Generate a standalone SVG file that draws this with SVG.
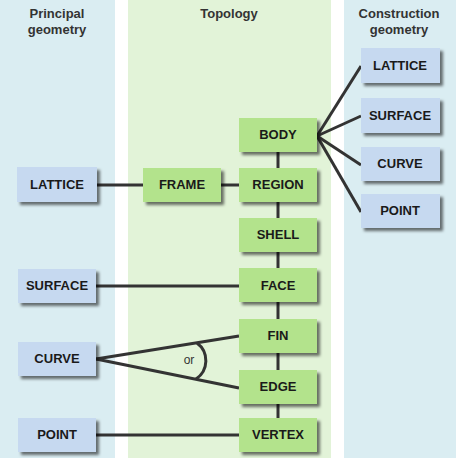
<svg xmlns="http://www.w3.org/2000/svg" width="456" height="463" viewBox="0 0 456 463">
<style>
.title{font-family:"Liberation Sans",Arial,sans-serif;font-weight:bold;font-size:13px;fill:#333;text-anchor:middle}
.lbl{font-family:"Liberation Sans",Arial,sans-serif;font-weight:bold;font-size:13px;fill:#1a1a1a;text-anchor:middle}
.geo{fill:#c6d9f0}
.top{fill:#b3e38c}
.con{stroke:#333;stroke-width:3;fill:none}
</style>
<defs>
<filter id="sh" x="-20%" y="-30%" width="150%" height="180%">
<feDropShadow dx="3" dy="3" stdDeviation="1.5" flood-color="#000" flood-opacity="0.55"/>
</filter>
</defs>
<rect x="0" y="0" width="115" height="458" fill="#daedf2"/>
<rect x="128" y="0" width="203" height="458" fill="#e2f3d8"/>
<rect x="344" y="0" width="112" height="458" fill="#daedf2"/>
<text class="title" x="57" y="18">Principal</text>
<text class="title" x="57" y="34">geometry</text>
<text class="title" x="229" y="18">Topology</text>
<text class="title" x="399" y="18">Construction</text>
<text class="title" x="399" y="34">geometry</text>
<g id="connectors">
<line class="con" x1="317" y1="136" x2="361" y2="66"/>
<line class="con" x1="317" y1="136" x2="361" y2="116"/>
<line class="con" x1="317" y1="136" x2="361" y2="165"/>
<line class="con" x1="317" y1="136" x2="361" y2="212"/>
<line class="con" x1="278" y1="152" x2="278" y2="168"/>
<line class="con" x1="278" y1="202" x2="278" y2="218"/>
<line class="con" x1="278" y1="252" x2="278" y2="268"/>
<line class="con" x1="278" y1="302" x2="278" y2="319"/>
<line class="con" x1="278" y1="353" x2="278" y2="370"/>
<line class="con" x1="278" y1="404" x2="278" y2="418"/>
<line class="con" x1="97" y1="185" x2="143" y2="185"/>
<line class="con" x1="221" y1="185" x2="239" y2="185"/>
<line class="con" x1="96" y1="286" x2="239" y2="286"/>
<line class="con" x1="96" y1="359" x2="239" y2="336"/>
<line class="con" x1="96" y1="359" x2="239" y2="388"/>
<line class="con" x1="96" y1="435" x2="239" y2="435"/>
<path class="con" d="M197,343 A22,22 0 0,1 196,379"/>
<text x="189" y="364" font-family="Liberation Sans,Arial,sans-serif" font-size="12" fill="#333" text-anchor="middle">or</text>
</g>
<g id="p-lattice"><rect class="geo" x="17" y="167" width="80" height="35" filter="url(#sh)"/><text class="lbl" x="57" y="189">LATTICE</text></g>
<g id="p-surface"><rect class="geo" x="18" y="269" width="78" height="34" filter="url(#sh)"/><text class="lbl" x="57" y="290">SURFACE</text></g>
<g id="p-curve"><rect class="geo" x="18" y="342" width="78" height="34" filter="url(#sh)"/><text class="lbl" x="57" y="363">CURVE</text></g>
<g id="p-point"><rect class="geo" x="18" y="418" width="78" height="34" filter="url(#sh)"/><text class="lbl" x="57" y="439">POINT</text></g>
<g id="frame"><rect class="top" x="143" y="168" width="78" height="34" filter="url(#sh)"/><text class="lbl" x="182" y="189">FRAME</text></g>
<g id="body"><rect class="top" x="239" y="118" width="78" height="34" filter="url(#sh)"/><text class="lbl" x="278" y="139">BODY</text></g>
<g id="region"><rect class="top" x="239" y="168" width="78" height="34" filter="url(#sh)"/><text class="lbl" x="278" y="189">REGION</text></g>
<g id="shell"><rect class="top" x="239" y="218" width="78" height="34" filter="url(#sh)"/><text class="lbl" x="278" y="239">SHELL</text></g>
<g id="face"><rect class="top" x="239" y="268" width="78" height="34" filter="url(#sh)"/><text class="lbl" x="278" y="290">FACE</text></g>
<g id="fin"><rect class="top" x="239" y="319" width="78" height="34" filter="url(#sh)"/><text class="lbl" x="278" y="340">FIN</text></g>
<g id="edge"><rect class="top" x="239" y="370" width="78" height="34" filter="url(#sh)"/><text class="lbl" x="278" y="391">EDGE</text></g>
<g id="vertex"><rect class="top" x="239" y="418" width="78" height="34" filter="url(#sh)"/><text class="lbl" x="278" y="439">VERTEX</text></g>
<g id="c-lattice"><rect class="geo" x="361" y="48" width="79" height="35" filter="url(#sh)"/><text class="lbl" x="400" y="70">LATTICE</text></g>
<g id="c-surface"><rect class="geo" x="361" y="98" width="79" height="35" filter="url(#sh)"/><text class="lbl" x="400" y="120">SURFACE</text></g>
<g id="c-curve"><rect class="geo" x="361" y="147" width="79" height="34" filter="url(#sh)"/><text class="lbl" x="400" y="168">CURVE</text></g>
<g id="c-point"><rect class="geo" x="361" y="194" width="79" height="34" filter="url(#sh)"/><text class="lbl" x="400" y="215">POINT</text></g>
</svg>
